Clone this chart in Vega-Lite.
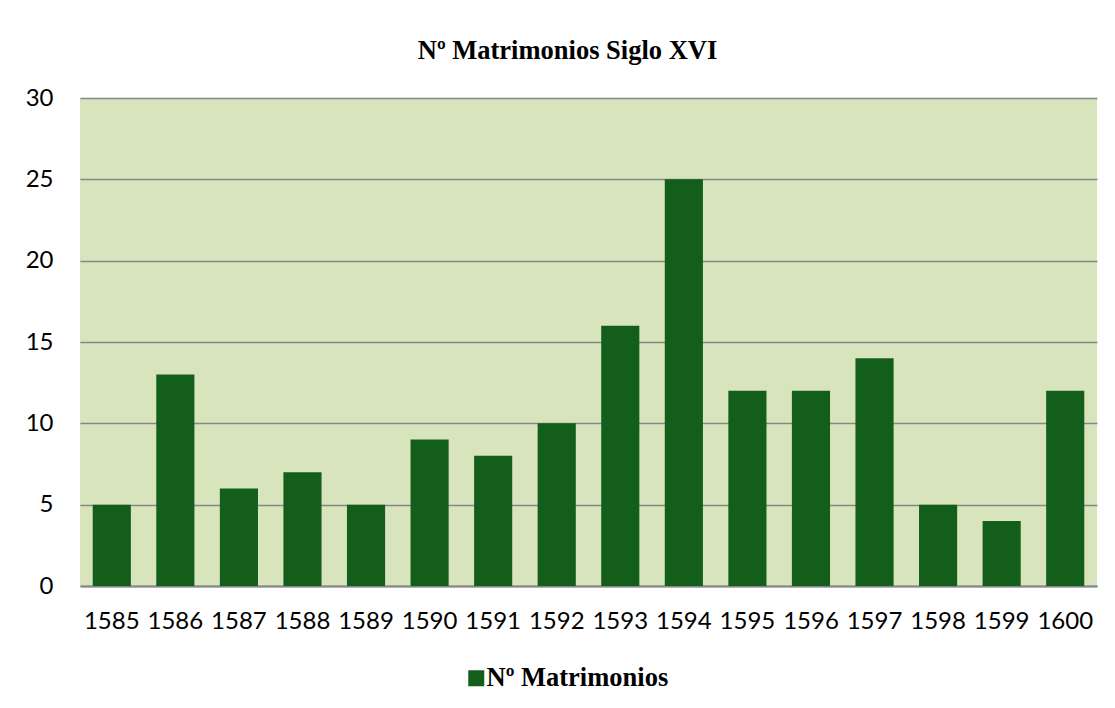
{
  "$schema": "https://vega.github.io/schema/vega-lite/v6.json",
  "width": 1017,
  "height": 488,
  "autosize": {"type": "none"},
  "padding": {"left": 80, "top": 98, "right": 18, "bottom": 122},
  "background": "white",
  "title": {
    "text": "Nº Matrimonios Siglo XVI",
    "font": "Liberation Serif",
    "fontSize": 26.5,
    "fontWeight": "bold",
    "color": "#000000",
    "anchor": "middle",
    "dx": -21,
    "offset": 22
  },
  "data": {
    "values": [
      {"year": "1585", "n": 5, "serie": "Nº Matrimonios"},
      {"year": "1586", "n": 13, "serie": "Nº Matrimonios"},
      {"year": "1587", "n": 6, "serie": "Nº Matrimonios"},
      {"year": "1588", "n": 7, "serie": "Nº Matrimonios"},
      {"year": "1589", "n": 5, "serie": "Nº Matrimonios"},
      {"year": "1590", "n": 9, "serie": "Nº Matrimonios"},
      {"year": "1591", "n": 8, "serie": "Nº Matrimonios"},
      {"year": "1592", "n": 10, "serie": "Nº Matrimonios"},
      {"year": "1593", "n": 16, "serie": "Nº Matrimonios"},
      {"year": "1594", "n": 25, "serie": "Nº Matrimonios"},
      {"year": "1595", "n": 12, "serie": "Nº Matrimonios"},
      {"year": "1596", "n": 12, "serie": "Nº Matrimonios"},
      {"year": "1597", "n": 14, "serie": "Nº Matrimonios"},
      {"year": "1598", "n": 5, "serie": "Nº Matrimonios"},
      {"year": "1599", "n": 4, "serie": "Nº Matrimonios"},
      {"year": "1600", "n": 12, "serie": "Nº Matrimonios"}
    ]
  },
  "mark": {"type": "bar"},
  "encoding": {
    "x": {
      "field": "year",
      "type": "nominal",
      "sort": null,
      "scale": {"paddingInner": 0.4, "paddingOuter": 0.2},
      "axis": {
        "title": null,
        "labelAngle": 0,
        "labelFont": "Lato",
        "labelFontSize": 24,
        "labelColor": "#000000",
        "labelPadding": 23,
        "ticks": false,
        "domainColor": "#868686",
        "domainWidth": 2,
        "grid": false
      }
    },
    "y": {
      "field": "n",
      "type": "quantitative",
      "scale": {"domain": [0, 30], "nice": false},
      "axis": {
        "title": null,
        "values": [0, 5, 10, 15, 20, 25, 30],
        "labelFont": "Lato",
        "labelFontSize": 24,
        "labelColor": "#000000",
        "labelPadding": 27,
        "ticks": false,
        "domain": false,
        "grid": true,
        "gridColor": "#868686",
        "gridWidth": 1.5
      }
    },
    "color": {
      "field": "serie",
      "type": "nominal",
      "scale": {"range": ["#135E1B"]},
      "legend": {
        "title": null,
        "orient": "none",
        "legendX": 383,
        "legendY": 567,
        "symbolType": "square",
        "symbolSize": 256,
        "symbolStrokeWidth": 0,
        "labelFont": "Liberation Serif",
        "labelFontSize": 26.5,
        "labelFontWeight": "bold",
        "labelColor": "#000000",
        "labelOffset": -3,
        "labelLimit": 500
      }
    }
  },
  "config": {
    "view": {"fill": "#D8E4BC", "stroke": null}
  }
}
